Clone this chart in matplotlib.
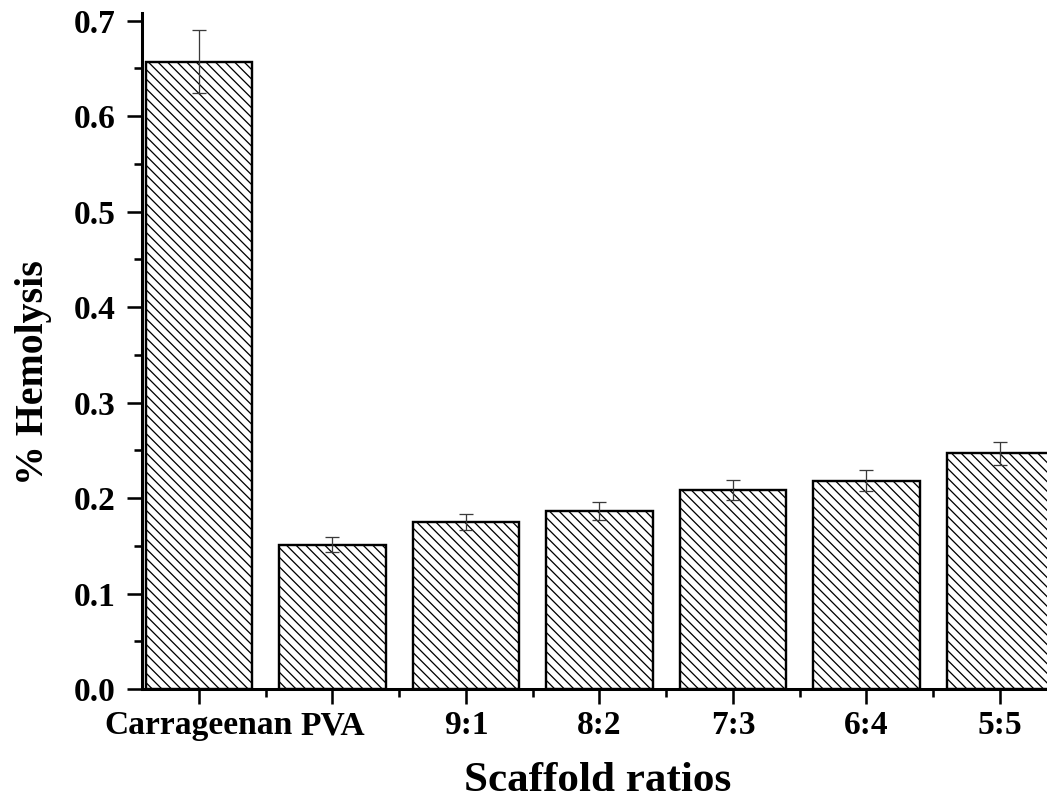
import matplotlib
matplotlib.use("Agg")
import matplotlib.pyplot as plt
from matplotlib.ticker import MultipleLocator, FormatStrFormatter

categories = ["Carrageenan", "PVA", "9:1", "8:2", "7:3", "6:4", "5:5"]
hemolysis = [0.657, 0.151, 0.175, 0.186, 0.208, 0.218, 0.247]
errors = [0.033, 0.008, 0.0085, 0.0095, 0.0105, 0.011, 0.012]

DPI = 115
plt.rcParams['font.family'] = ['Liberation Serif', 'DejaVu Serif']
plt.rcParams['font.weight'] = 'bold'
plt.rcParams['hatch.color'] = 'black'
plt.rcParams['hatch.linewidth'] = 0.8

fig = plt.figure(figsize=(1047 / DPI, 802 / DPI), dpi=DPI)
ax = fig.add_axes([0.1356, 0.1409, 0.8832, 0.8429])

x = list(range(len(categories)))
ax.bar(x, hemolysis, width=0.8, facecolor='white', edgecolor='black',
       linewidth=1.5, hatch='\\\\\\\\', zorder=2)
ax.errorbar(x, hemolysis, yerr=errors, fmt='none', ecolor='#3a3a3a',
            elinewidth=0.8, capsize=4.4, capthick=0.8, zorder=3)

ax.set_xlim(-0.427, 6.5)
ax.set_ylim(0, 0.708)

ax.set_xticks(x)
ax.set_xticklabels(categories)
ax.xaxis.set_minor_locator(MultipleLocator(0.5))
ax.yaxis.set_major_locator(MultipleLocator(0.1))
ax.yaxis.set_minor_locator(MultipleLocator(0.05))
ax.yaxis.set_major_formatter(FormatStrFormatter('%.1f'))

for s in ['top', 'right']:
    ax.spines[s].set_visible(False)
for s in ['left', 'bottom']:
    ax.spines[s].set_linewidth(1.9)

ax.tick_params(axis='both', which='major', direction='out', length=9.4,
               width=1.6, labelsize=21, pad=4)
ax.tick_params(axis='y', which='major', pad=7)
ax.tick_params(axis='both', which='minor', direction='out', length=5,
               width=1.6)
for lab in ax.get_xticklabels() + ax.get_yticklabels():
    lab.set_fontweight('bold')

ax.set_xlabel("Scaffold ratios", fontsize=27, fontweight='bold')
ax.set_ylabel("% Hemolysis", fontsize=25, fontweight='bold')
ax.xaxis.set_label_coords((598 - 142) / (0.8832 * 1047), -0.108)
ax.yaxis.set_label_coords(-0.097, 0.4675)

fig.savefig("out.png", dpi=DPI)
